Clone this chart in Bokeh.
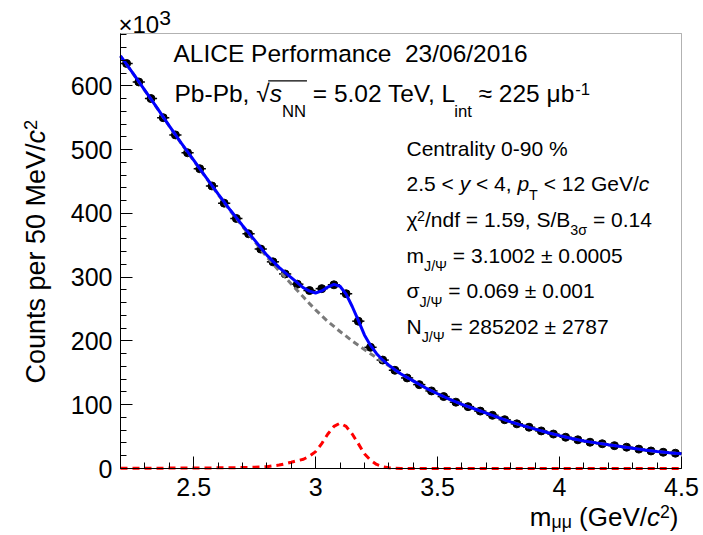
import math
from bokeh.plotting import figure
from bokeh.models import (Range1d, Label, ColumnDataSource, SingleIntervalTicker,
                          CustomJSTickFormatter, BoxAnnotation)
from bokeh.embed import file_html
from bokeh.resources import INLINE

# ---------------- data (counts in units of 10^3) ----------------
mass = [2.225, 2.275, 2.325, 2.375, 2.425, 2.475, 2.525, 2.575, 2.625, 2.675,
        2.725, 2.775, 2.825, 2.875, 2.925, 2.975, 3.025, 3.075, 3.125, 3.175,
        3.225, 3.275, 3.325, 3.375, 3.425, 3.475, 3.525, 3.575, 3.625, 3.675,
        3.725, 3.775, 3.825, 3.875, 3.925, 3.975, 4.025, 4.075, 4.125, 4.175,
        4.225, 4.275, 4.325, 4.375, 4.425, 4.475]
counts = [635, 606, 580, 550, 523, 495, 470, 443, 416, 392,
          368, 344, 324, 305, 289, 279, 282, 288, 274, 231,
          190, 170, 154, 142, 131.5, 121.6, 112.8, 104, 97, 90,
          83.4, 76.5, 70, 64.7, 58.9, 54, 49, 45, 41.2, 38.8,
          35.8, 33.4, 30.4, 27.5, 25.5, 24]
bin_half_width = 0.025

fit_mass = [2.2, 2.25, 2.3, 2.35, 2.4, 2.45, 2.5, 2.55, 2.6, 2.65, 2.7, 2.75, 2.8, 2.85,
            2.875, 2.9, 2.925, 2.95, 2.975, 3.0, 3.025, 3.05, 3.075, 3.1, 3.125, 3.15,
            3.175, 3.2, 3.225, 3.25, 3.275, 3.3, 3.325, 3.35,
            3.4, 3.45, 3.5, 3.55, 3.6, 3.65, 3.7, 3.75, 3.8, 3.85, 3.9, 3.95, 4.0,
            4.05, 4.1, 4.15, 4.2, 4.25, 4.3, 4.35, 4.4, 4.45, 4.5]
fit_total = [646.8, 620.4, 592.9, 565.5, 537.2, 509.7, 483.5, 456.9, 430.7, 405.2, 381.1, 358.0, 334.5, 315.4,
             307.1, 299.2, 291.3, 283.3, 278.0, 275.2, 278.4, 284.5, 288.7, 285.8, 273.5, 254.0,
             232.3, 209.4, 193.0, 180.0, 170.2, 162.0, 154.8, 148.2,
             137.3, 126.5, 117.2, 108.4, 100.6, 93.7, 86.8, 79.8, 73.2, 67.2, 61.8, 56.4, 51.5,
             47.1, 43.2, 40.2, 37.3, 34.6, 31.9, 28.9, 26.5, 24.7, 23.1]
fit_background = [646.5, 620, 592.5, 565, 536.6, 509, 482.7, 456, 429.7, 404, 379.6, 356, 331.6, 310,
                  299.7, 289.4, 279, 268.8, 258.5, 248.7, 239.4, 230.5, 222.7, 214.8, 207.5, 200,
                  193.3, 186.4, 180, 173.6, 167.3, 160.9, 154.5, 148.1,
                  137.3, 126.5, 117.2, 108.4, 100.6, 93.7, 86.8, 79.8, 73.2, 67.2, 61.8, 56.4, 51.5,
                  47.1, 43.2, 40.2, 37.3, 34.6, 31.9, 28.9, 26.5, 24.7, 23.1]
fit_signal = [0.3, 0.35, 0.4, 0.5, 0.6, 0.7, 0.8, 0.9, 1.0, 1.2, 1.5, 2.0, 2.9, 5.4,
              7.4, 9.8, 12.3, 14.5, 19.5, 26.5, 39, 54, 66, 71, 66, 54,
              39, 23, 13, 6.4, 2.9, 1.1, 0.3, 0.1,
              0, 0, 0, 0, 0, 0, 0, 0, 0, 0, 0, 0, 0,
              0, 0, 0, 0, 0, 0, 0, 0, 0, 0]

X_MIN, X_MAX = 2.2, 4.5
Y_MIN, Y_MAX = 0, 682

# ---------------- layout: frame = whole canvas, axes at fixed data locations ----------------
FONT = "Liberation Sans"
CW, CH = 700, 534
BOX_L, BOX_R, BOX_T, BOX_B = 120, 681, 33, 468      # plotting box in canvas pixels
sx = (BOX_R - BOX_L) / (X_MAX - X_MIN)
sy = (BOX_B - BOX_T) / (Y_MAX - Y_MIN)
x_range = Range1d(X_MIN - BOX_L / sx, X_MAX + (CW - BOX_R) / sx)
y_range = Range1d(Y_MIN - (CH - BOX_B) / sy, Y_MAX + BOX_T / sy)

p = figure(width=CW, height=CH, x_range=x_range, y_range=y_range,
           output_backend="svg", toolbar_location=None, title=None,
           min_border_left=0, min_border_right=0, min_border_top=0, min_border_bottom=0)
p.xgrid.visible = False
p.ygrid.visible = False
p.outline_line_color = None
p.background_fill_color = "white"
p.border_fill_color = "white"

p.xaxis.fixed_location = Y_MIN
p.yaxis.fixed_location = X_MIN
p.xaxis.bounds = (X_MIN, X_MAX)
p.yaxis.bounds = (Y_MIN, Y_MAX)
p.xaxis.ticker = SingleIntervalTicker(interval=0.5, num_minor_ticks=5)
p.yaxis.ticker = SingleIntervalTicker(interval=100, num_minor_ticks=5)
p.xaxis.formatter = CustomJSTickFormatter(code="return tick.toString()")
for ax in (p.xaxis[0], p.yaxis[0]):
    ax.major_tick_in = 12
    ax.major_tick_out = 0
    ax.minor_tick_in = 6
    ax.minor_tick_out = 0
    ax.axis_line_color = "black"
    ax.major_tick_line_color = "black"
    ax.minor_tick_line_color = "black"
    ax.major_label_text_font = FONT
    ax.major_label_text_font_size = "25px"
    ax.major_label_text_color = "black"
p.xaxis.major_label_standoff = 9
p.yaxis.major_label_standoff = 8

# ---------------- glyphs ----------------
src = ColumnDataSource(dict(x=mass, y=counts,
                            x0=[m - bin_half_width for m in mass],
                            x1=[m + bin_half_width for m in mass]))
p.segment(x0="x0", y0="y", x1="x1", y1="y", source=src, line_color="black", line_width=1.5)
p.scatter(x="x", y="y", source=src, size=8, color="black")

fit = ColumnDataSource(dict(x=fit_mass, tot=fit_total, bkg=fit_background, sig=fit_signal))
p.line(x="x", y="bkg", source=fit, line_color="#7a7a7a", line_width=3, line_dash="6 4")
p.line(x="x", y="sig", source=fit, line_color="#ff0000", line_width=3, line_dash="7 5")
p.line(x="x", y="tot", source=fit, line_color="#0000ff", line_width=3)

# plotting-box outline
p.add_layout(BoxAnnotation(left=X_MIN, right=X_MAX, bottom=Y_MIN, top=Y_MAX,
                           fill_color=None, fill_alpha=0, line_color="black", line_width=1))

# ---------------- rich text helper ----------------
W = {' ': 278, '!': 278, '%': 889, '(': 333, ')': 333, '+': 584, ',': 278, '-': 333, '.': 278,
     '/': 278, '<': 584, '=': 584, '>': 584, '√': 549, '≈': 584, '±': 584, '×': 584,
     'μ': 576, 'χ': 500, 'σ': 617, 'Ψ': 834}
for d in "0123456789":
    W[d] = 556
W.update(dict(zip("ABCDEFGHIJKLMNOPQRSTUVWXYZ",
                  [667, 667, 722, 722, 667, 611, 778, 722, 278, 500, 667, 556, 833, 722, 778,
                   667, 778, 722, 667, 611, 722, 667, 944, 667, 667, 611])))
W.update(dict(zip("abcdefghijklmnopqrstuvwxyz",
                  [556, 556, 500, 556, 556, 278, 556, 556, 222, 222, 500, 222, 833, 556, 556,
                   556, 556, 333, 500, 278, 556, 500, 722, 500, 500, 500])))
KERN = {"Te": -111, "V,": -148}
MID = 0.35          # label anchor ("middle") sits this many em above the baseline


def tw(s, size):
    w = sum(W.get(c, 556) for c in s)
    w += sum(KERN.get(s[i:i + 2], 0) for i in range(len(s) - 1))
    return w * size / 1000.0


def rich(parts, x_img, y_img, size, angle=0.0, sub=0.33, sup=0.33, script=0.68):
    spans = []
    pos = 0.0
    for txt, kind in parts:
        fs = size * script if kind in ("sub", "sup") else size
        shift = -sub * size if kind == "sub" else (sup * size if kind == "sup" else 0.0)
        style = "italic" if kind == "i" else "normal"
        lead = len(txt) - len(txt.lstrip(" "))
        body = txt.strip(" ")
        start = pos + tw(" " * lead, fs)
        if body:
            mid = shift + MID * fs
            if angle == 0:
                xo, yo = x_img - BOX_L + start, BOX_T - y_img + mid
            else:
                xo, yo = x_img - BOX_L - mid, BOX_T - y_img + start
            p.add_layout(Label(x=X_MIN, y=Y_MAX, x_offset=xo, y_offset=yo, text=body,
                               text_font=FONT, text_font_size=f"{fs:.1f}px",
                               text_font_style=style, text_baseline="middle",
                               text_align="left", angle=angle, text_color="black"))
        end = pos + tw(txt, fs)
        spans.append((start, start + tw(body, fs)))
        pos = end
    return spans


def to_data(px, py):
    return X_MIN + (px - BOX_L) / sx, Y_MAX - (py - BOX_T) / sy


# ×10^3
rich([("×10", "n"), ("3", "sup")], 118, 32.3, 24, sup=0.31, script=0.88)

# top-left block
TL_X, TL_S = 173, 24.5
rich([("ALICE Performance  ", "n"), ("23/06/2016", "n")], TL_X, 62, TL_S)
sp = rich([("Pb-Pb, ", "n"), ("√", "n"), ("s", "i"), ("NN", "sub"), (" = 5.02 TeV, L", "n"),
           ("int", "sub"), (" ≈ 225 μb", "n"), ("-1", "sup")], TL_X + 1, 102, TL_S, sub=0.6)
# radical overline over s_NN
ox0, oy = to_data(TL_X + 1 + sp[1][1] - 1.5, 102 - 0.88 * TL_S)
ox1, _ = to_data(TL_X + 1 + sp[3][1] + 1, 102)
p.segment(x0=[ox0], y0=[oy], x1=[ox1], y1=[oy], line_color="black", line_width=1.3)

# right block
RX, RS = 406, 21
rich([("Centrality 0-90 %", "n")], RX, 155, RS)
rich([("2.5 < ", "n"), ("y", "i"), (" < 4, ", "n"), ("p", "i"), ("T", "sub"),
      (" < 12 GeV/", "n"), ("c", "i")], RX, 190.7, RS, sub=0.4)
rich([("χ", "n"), ("2", "sup"), ("/ndf = 1.59, S/B", "n"), ("3σ", "sub"), (" = 0.14", "n")],
     RX, 226.4, RS, sub=0.4, sup=0.3)
rich([("m", "n"), ("J/Ψ", "sub"), (" = 3.1002 ± 0.0005", "n")], RX, 262.1, RS, sub=0.4)
rich([("σ", "n"), ("J/Ψ", "sub"), (" = 0.069 ± 0.001", "n")], RX, 297.8, RS, sub=0.4)
rich([("N", "n"), ("J/Ψ", "sub"), (" = 285202 ± 2787", "n")], RX, 333.5, RS, sub=0.4)

# axis titles
XS = 26
xt_parts = [("m", "n"), ("μμ", "sub"), (" (GeV/", "n"), ("c", "i"), ("2", "sup"), (")", "n")]
xt_w = sum(tw(t, XS * 0.68 if k in ("sub", "sup") else XS) for t, k in xt_parts)
rich(xt_parts, 678 - xt_w, 525.5, XS, sub=0.1)
rich([("Counts per 50 MeV/", "n"), ("c", "i"), ("2", "sup")], 45, 383, 27, angle=math.pi / 2)

open("out.html", "w").write(file_html(p, INLINE))
